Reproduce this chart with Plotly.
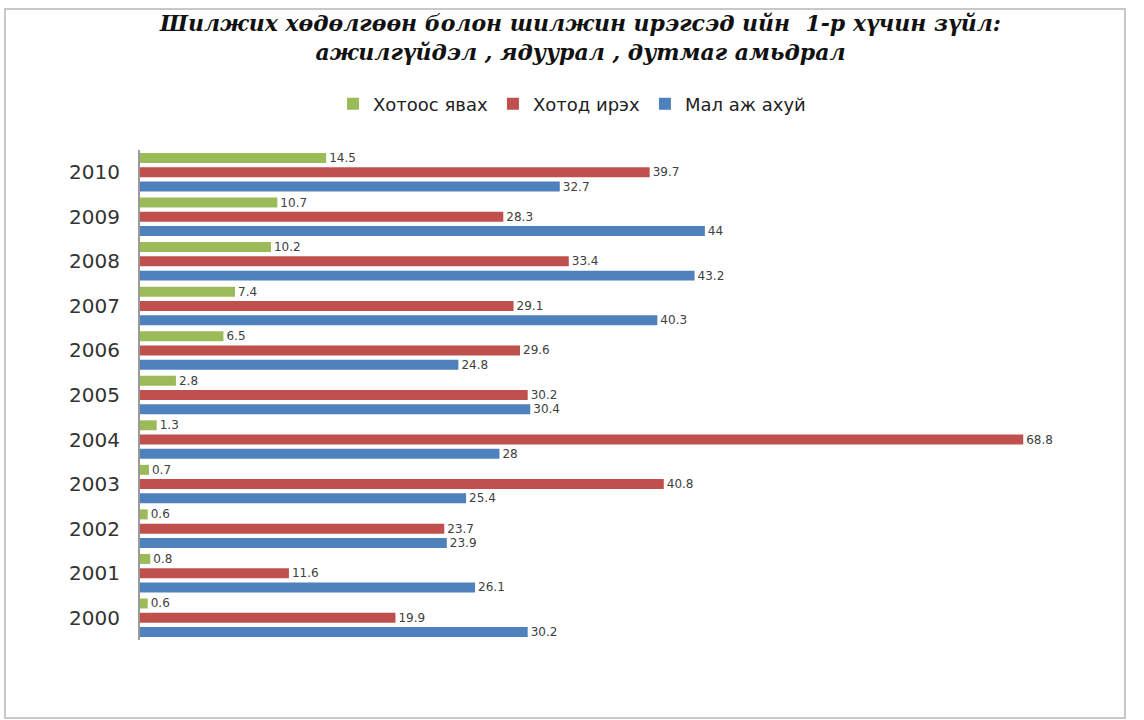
import plotly.graph_objects as go

years = ["2000", "2001", "2002", "2003", "2004", "2005", "2006", "2007", "2008", "2009", "2010"]
leaving_city = [0.6, 0.8, 0.6, 0.7, 1.3, 2.8, 6.5, 7.4, 10.2, 10.7, 14.5]      # Хотоос явах
coming_city = [19.9, 11.6, 23.7, 40.8, 68.8, 30.2, 29.6, 29.1, 33.4, 28.3, 39.7]  # Хотод ирэх
livestock = [30.2, 26.1, 23.9, 25.4, 28.0, 30.4, 24.8, 40.3, 43.2, 44.0, 32.7]    # Мал аж ахуй

names = ["Хотоос явах", "Хотод ирэх", "Мал аж ахуй"]
colors = ["#9BBB59", "#C0504D", "#4F81BD"]

title_text = ("<b><i>Шилжих хөдөлгөөн болон шилжин ирэгсэд ийн  1-р хүчин зүйл:"
              "<br>ажилгүйдэл , ядуурал , дутмаг амьдрал</i></b>")

def fmt(v):
    return ("%g" % v)

fig = go.Figure()
for vals, name, col in [(livestock, names[2], colors[2]),
                        (coming_city, names[1], colors[1]),
                        (leaving_city, names[0], colors[0])]:
    fig.add_trace(go.Bar(
        y=years, x=vals, name=name, orientation="h",
        marker=dict(color=col, line=dict(width=0)),
        text=[fmt(v) for v in vals], textposition="outside",
        constraintext="none",
        textfont=dict(family="DejaVu Sans", size=12, color="#404040"),
        cliponaxis=False,
    ))

T, B, L, R = 150, 80, 140, 54
PW = 1144 - L - R
PH = 720 - T - B

fig.update_layout(
    width=1144, height=720,
    paper_bgcolor="white", plot_bgcolor="white",
    margin=dict(l=L, r=R, t=T, b=B),
    barmode="group", bargap=0.04, bargroupgap=0.3,
    legend=dict(
        orientation="h", traceorder="reversed",
        x=(572 - L) / PW, xanchor="center", y=1 + (T - 104) / PH, yanchor="middle",
        font=dict(family="DejaVu Sans", size=18, color="#222222"),
        itemwidth=30,
    ),
    xaxis=dict(range=[0, 74], showgrid=False, showticklabels=False, zeroline=False,
               showline=False, ticks=""),
    yaxis=dict(showgrid=False, showline=True, linecolor="#9a9a9a", linewidth=2,
               ticks="", ticklabelstandoff=14,
               tickfont=dict(family="DejaVu Sans", size=20, color="#333333")),
    annotations=[dict(text=title_text, xref="paper", yref="paper",
                      x=(580 - L) / PW, y=1 + (T - 37) / PH,
                      xanchor="center", yanchor="middle", showarrow=False,
                      font=dict(family="DejaVu Serif", size=22, color="#111111"))],
    shapes=[dict(type="rect", xref="paper", yref="paper",
                 x0=(5 - L) / PW, x1=(1125 - L) / PW, y0=-(B - 2) / PH, y1=1 + (T - 9) / PH,
                 line=dict(color="#c8c8c8", width=2), fillcolor="rgba(0,0,0,0)")],
)

fig.write_html("out.html")
